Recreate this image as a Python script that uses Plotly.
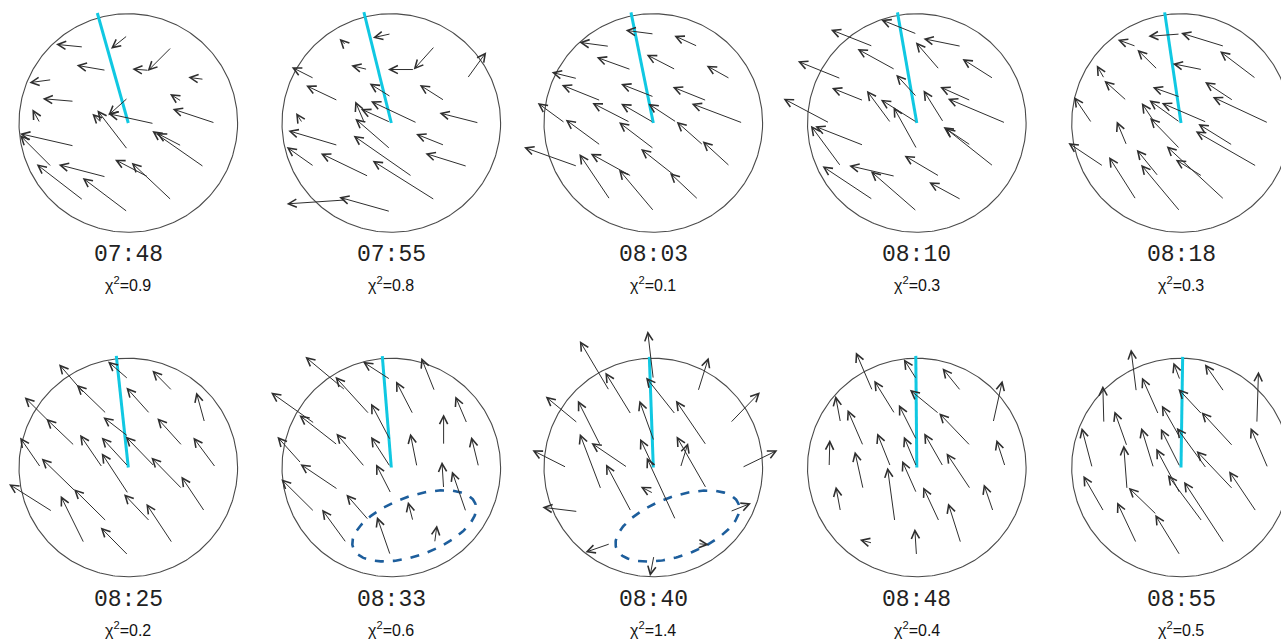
import numpy as np
import plotly.graph_objects as go

W, H = 1281, 640

TIMES = ["07:48", "07:55", "08:03", "08:10", "08:18",
         "08:25", "08:33", "08:40", "08:48", "08:55"]
CHI2 = ["0.9", "0.8", "0.1", "0.3", "0.3", "0.2", "0.6", "1.4", "0.4", "0.5"]

# Digitised readings (source-image reading units, y downward).
# Calibration per panel: circle centre x, centre y, radius in the same units.
CAL_CX = [385, 388, 400, 410, 423, 383, 388, 400, 411, 423]
CAL_CY = [368, 370, 370, 370, 370, 383, 442, 442, 383, 382]
CAL_R = [328, 327, 328, 328, 328, 328, 328, 330, 328, 330]

# outer end of the cyan reference line (inner end is the circle centre)
CYAN_X = [292, 306, 333, 352, 374, 347, 361, 388, 408, 428]
CYAN_Y = [38, 38, 38, 38, 38, 48, 108, 108, 48, 48]

# arrows: (tail x, tail y, head x, head y)
ARROWS_0748 = [(383,105,333,145),(250,140,168,132),(515,140,443,212),(318,210,230,195),
    (447,210,397,206),(612,237,565,231),(155,238,88,247),(545,303,510,281),(222,303,128,295),
    (120,368,97,327),(384,292,325,345),(462,370,325,340),(305,368,277,340),(383,448,292,330),
    (645,368,518,326),(222,437,60,400),(155,500,60,405),(612,500,457,392),(545,437,470,398),
    (318,530,176,493),(250,600,110,492),(383,635,248,533),(515,600,395,487),(445,530,345,478)]
ARROWS_0755 = [(387,103,333,115),(253,138,233,118),(518,140,455,210),(457,210,378,210),
    (317,210,268,198),(157,237,90,203),(615,237,672,158),(387,292,323,252),(547,303,473,256),
    (228,303,133,258),(465,370,327,305),(385,368,297,328),(307,368,280,305),(122,370,103,340),
    (650,370,532,340),(385,448,280,357),(228,437,80,393),(547,437,462,403),(157,500,75,442),
    (450,530,275,408),(320,530,177,461),(615,500,490,461),(518,600,332,483),(385,635,232,592),
    (255,600,75,612)]
ARROWS_0803 = [(402,103,317,92),(533,140,463,108),(268,140,178,128),(333,210,230,173),
    (467,210,380,165),(630,237,560,198),(172,237,95,218),(242,303,125,256),(402,292,303,253),
    (560,303,458,262),(400,368,303,312),(470,368,385,312),(330,368,217,310),(135,370,53,310),
    (668,370,515,312),(242,437,137,360),(402,448,297,368),(550,437,470,366),(172,500,12,443),
    (335,530,212,462),(467,530,363,448),(630,500,548,425),(270,600,178,463),(402,635,297,510),
    (535,600,450,520)]
ARROWS_0810 = [(410,103,303,60),(278,140,152,90),(543,140,430,117),(478,210,407,128),
    (345,210,232,148),(640,237,547,178),(182,237,53,185),(410,292,348,225),(250,303,155,265),
    (572,303,480,262),(148,370,10,297),(332,370,260,273),(410,368,302,300),(490,368,430,272),
    (676,370,503,297),(250,437,105,380),(410,448,340,322),(572,437,490,382),(182,500,92,378),
    (345,530,207,498),(478,530,373,468),(640,500,495,385),(278,600,127,500),(410,635,272,515),
    (543,600,447,548)]
ARROWS_0818 = [(420,103,325,110),(553,140,423,100),(288,140,233,120),(353,210,292,150),
    (487,210,398,192),(648,237,540,155),(193,237,170,197),(420,292,338,263),(260,303,193,243),
    (580,303,495,247),(155,370,102,292),(500,368,365,310),(420,368,328,302),(685,370,518,292),
    (345,370,305,310),(420,448,330,355),(260,437,230,365),(578,437,475,373),(190,500,85,430),
    (355,530,290,450),(487,530,407,480),(650,500,467,395),(288,600,207,472),(420,635,303,495),
    (553,600,380,440)]
ARROWS_0825 = [(383,118,322,65),(515,153,455,92),(318,222,228,135),(250,160,175,73),
    (448,222,377,143),(612,248,587,157),(222,318,137,237),(150,250,72,172),(383,290,308,232),
    (462,380,375,290),(545,318,470,235),(120,383,58,293),(305,383,238,285),(383,380,303,293),
    (645,383,578,293),(383,462,303,340),(545,448,452,353),(318,545,220,448),(225,455,123,356),
    (155,515,25,433),(448,545,370,463),(612,515,542,410),(250,610,180,468),(515,610,437,492),
    (383,647,300,563)]
ARROWS_0833 = [(250,210,130,110),(322,282,220,170),(385,178,303,125),(453,282,402,183),
    (518,213,478,113),(158,310,27,217),(227,375,112,285),(385,360,327,250),(615,310,580,228),
    (545,375,545,282),(308,440,223,340),(385,440,327,350),(465,440,445,340),(650,440,628,350),
    (118,430,46,350),(228,508,115,432),(387,520,342,432),(545,505,540,425),(612,575,570,453),
    (157,575,58,477),(320,600,253,523),(453,603,438,545),(253,668,180,568),(385,705,345,590),
    (518,668,525,615)]
ARROWS_0840 = [(400,175,383,30),(267,210,178,60),(535,212,567,110),(467,282,378,170),
    (333,282,255,155),(172,308,75,228),(240,375,172,240),(560,375,468,240),(632,308,722,215),
    (402,362,358,240),(242,508,178,340),(322,442,213,368),(400,440,360,355),(482,442,505,368),
    (560,505,470,348),(138,442,35,390),(333,575,257,432),(467,600,380,412),(668,442,775,390),
    (400,520,362,500),(172,575,65,562),(632,575,695,550),(270,672,195,698),(535,672,568,675),
    (402,708,390,770)]
ARROWS_0848 = [(410,118,372,58),(278,153,228,37),(543,153,488,85),(640,248,668,122),
    (345,222,283,122),(572,318,478,220),(478,222,390,150),(182,248,167,168),(410,300,357,195),
    (250,318,203,210),(148,380,150,300),(332,380,292,280),(410,380,372,290),(490,380,433,280),
    (676,380,650,300),(250,448,225,335),(410,460,367,363),(572,448,500,340),(182,515,168,440),
    (345,545,323,383),(478,545,430,442),(640,515,612,433),(278,610,240,600),(410,647,405,567),
    (543,610,505,490)]
ARROWS_0855 = [(420,118,400,65),(553,153,495,70),(288,153,272,25),(652,248,657,92),
    (190,248,187,135),(355,222,305,110),(580,318,485,215),(487,222,415,145),(420,292,365,195),
    (260,318,222,212),(155,383,123,262),(340,383,303,262),(420,380,362,265),(500,385,410,262),
    (685,383,633,262),(580,448,470,332),(260,448,250,315),(420,460,348,325),(190,515,128,407),
    (350,525,265,443),(650,515,568,393),(487,545,383,405),(288,610,230,487),(420,647,345,525),
    (553,610,432,425)]

PANEL_ARROWS = [ARROWS_0748, ARROWS_0755, ARROWS_0803, ARROWS_0810, ARROWS_0818,
                ARROWS_0825, ARROWS_0833, ARROWS_0840, ARROWS_0848, ARROWS_0855]

# dashed ellipses (normalised units, circle radius = 1)
ELLIPSE_PANEL = [6, 7]
ELLIPSE_CX = [0.21, 0.221]
ELLIPSE_CY = [-0.534, -0.536]
ELLIPSE_A = [0.595, 0.595]
ELLIPSE_B = [0.27, 0.27]
ELLIPSE_ANG = [20, 20]

# layout: pixel centres of the circles and their pixel radius
COL_X = [128.3, 391.3, 653.3, 916.8, 1181.0]
ROW_Y = [123.0, 467.5]
R_PX = 109.3
ROW_SLOT = [(0, 300), (300, 640)]
HALF_SLOT = 150

ARROW_COLOR = "#2e2e2e"
CIRCLE_COLOR = "#4a4a4a"
CYAN = "#10c8e2"
ELLIPSE_COLOR = "#1d5e9c"

fig = go.Figure()
layout_axes = {}
annotations = []

theta = np.linspace(0, 2 * np.pi, 361)

for i in range(10):
    row, col = divmod(i, 5)
    px, py = COL_X[col], ROW_Y[row]
    n = i + 1
    xn = "x" if n == 1 else f"x{n}"
    yn = "y" if n == 1 else f"y{n}"
    xk = "xaxis" if n == 1 else f"xaxis{n}"
    yk = "yaxis" if n == 1 else f"yaxis{n}"
    x0p, x1p = max(0, px - HALF_SLOT), min(W, px + HALF_SLOT)
    yt, yb = ROW_SLOT[row]
    layout_axes[xk] = dict(domain=[x0p / W, x1p / W],
                           range=[(x0p - px) / R_PX, (x1p - px) / R_PX],
                           visible=False, fixedrange=True, anchor=yn)
    layout_axes[yk] = dict(domain=[1 - yb / H, 1 - yt / H],
                           range=[(py - yb) / R_PX, (py - yt) / R_PX],
                           visible=False, fixedrange=True, anchor=xn)

    cx, cy, r = CAL_CX[i], CAL_CY[i], CAL_R[i]

    def nx(v):
        return (v - cx) / r

    def ny(v):
        return (cy - v) / r

    # circle
    fig.add_trace(go.Scatter(x=np.cos(theta), y=np.sin(theta), mode="lines",
                             line=dict(color=CIRCLE_COLOR, width=1.1),
                             xaxis=xn, yaxis=yn, hoverinfo="skip", showlegend=False))
    # arrows
    for (tx, ty, hx, hy) in PANEL_ARROWS[i]:
        annotations.append(dict(x=nx(hx), y=ny(hy), ax=nx(tx), ay=ny(ty),
                                xref=xn, yref=yn, axref=xn, ayref=yn, text="",
                                showarrow=True, arrowhead=5, arrowsize=1.6,
                                arrowwidth=1, arrowcolor=ARROW_COLOR, standoff=0))
    # cyan line
    fig.add_trace(go.Scatter(x=[0, nx(CYAN_X[i])], y=[0, ny(CYAN_Y[i])], mode="lines",
                             line=dict(color=CYAN, width=3),
                             xaxis=xn, yaxis=yn, hoverinfo="skip", showlegend=False))
    # labels
    annotations.append(dict(x=px / W, y=1 - (py + 132) / H, xref="paper", yref="paper",
                            text=TIMES[i], showarrow=False,
                            font=dict(family="Liberation Mono", size=23, color="#222"),
                            xanchor="center", yanchor="middle"))
    annotations.append(dict(x=px / W, y=1 - (py + 161) / H, xref="paper", yref="paper",
                            text="χ<sup>2</sup>=" + CHI2[i], showarrow=False,
                            font=dict(family="Liberation Sans", size=16, color="#111"),
                            xanchor="center", yanchor="middle"))

for k, p in enumerate(ELLIPSE_PANEL):
    n = p + 1
    xn, yn = f"x{n}", f"y{n}"
    t = np.linspace(0, 2 * np.pi, 241)
    a, b = ELLIPSE_A[k], ELLIPSE_B[k]
    ang = np.deg2rad(ELLIPSE_ANG[k])
    ex = ELLIPSE_CX[k] + a * np.cos(t) * np.cos(ang) - b * np.sin(t) * np.sin(ang)
    ey = ELLIPSE_CY[k] + a * np.cos(t) * np.sin(ang) + b * np.sin(t) * np.cos(ang)
    fig.add_trace(go.Scatter(x=ex, y=ey, mode="lines",
                             line=dict(color=ELLIPSE_COLOR, width=2.6, dash="dash"),
                             xaxis=xn, yaxis=yn, hoverinfo="skip", showlegend=False))

fig.update_layout(width=W, height=H, margin=dict(l=0, r=0, t=0, b=0),
                  paper_bgcolor="white", plot_bgcolor="rgba(0,0,0,0)",
                  showlegend=False, annotations=annotations, **layout_axes)

fig.write_html("out.html", config={"displayModeBar": False},
               post_script="document.body.style.margin='0';document.body.style.overflow='hidden';")
